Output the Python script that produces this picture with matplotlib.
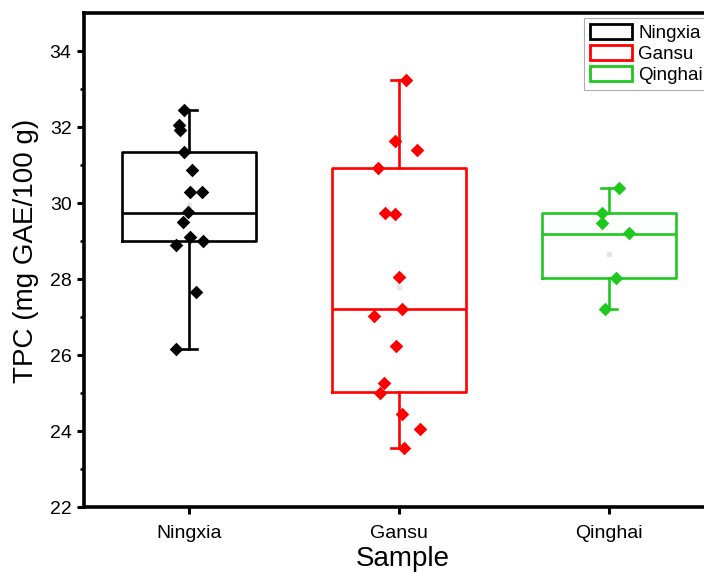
import numpy as np
import matplotlib.pyplot as plt
from matplotlib.patches import Patch

plt.rcParams['font.family'] = ['Liberation Sans', 'DejaVu Sans']

# Groups and colours
groups = ["Ningxia", "Gansu", "Qinghai"]
colors = ["black", "#ff0000", "#1ec81e"]

# Raw points (value, horizontal jitter in category units)
ningxia_vals = [32.45, 32.05, 31.92, 31.34, 30.87, 30.29, 30.29, 29.76, 29.50,
                29.11, 28.89, 29.00, 27.66, 26.16]
ningxia_jit = [-0.024, -0.048, -0.043, -0.024, 0.014, 0.005, 0.062, -0.005, -0.029,
               0.005, -0.062, 0.067, 0.033, -0.062]
gansu_vals = [33.24, 31.63, 31.39, 30.92, 29.74, 29.71, 28.05, 27.21, 27.03,
              26.24, 25.26, 25.00, 24.45, 24.05, 23.55]
gansu_jit = [0.033, -0.019, 0.086, -0.100, -0.067, -0.019, 0.000, 0.014, -0.119,
             -0.014, -0.071, -0.090, 0.014, 0.100, 0.024]
qinghai_vals = [30.39, 29.74, 29.47, 29.21, 28.03, 27.21]
qinghai_jit = [0.048, -0.033, -0.033, 0.095, 0.033, -0.019]

# Box statistics as drawn in the chart
q1 = [29.00, 25.03, 28.03]
med = [29.74, 27.21, 29.18]
q3 = [31.34, 30.92, 29.74]
whislo = [26.16, 23.55, 27.21]
whishi = [32.45, 33.24, 30.39]
means = [29.95, 27.80, 28.66]

values = [ningxia_vals, gansu_vals, qinghai_vals]
jitters = [ningxia_jit, gansu_jit, qinghai_jit]

fig = plt.figure(figsize=(7.04, 5.73), dpi=100)
ax = fig.add_axes([84 / 704, 66 / 573, (714 - 84) / 704, (507 - 13) / 573])

for i, g in enumerate(groups):
    stats = [dict(label=g, q1=q1[i], med=med[i], q3=q3[i],
                  whislo=whislo[i], whishi=whishi[i], mean=means[i])]
    c = colors[i]
    lw = 1.9
    ax.bxp(stats, positions=[i + 1], widths=0.64, showfliers=False, showmeans=True,
           boxprops=dict(color=c, linewidth=lw),
           medianprops=dict(color=c, linewidth=lw),
           whiskerprops=dict(color=c, linewidth=lw),
           capprops=dict(color=c, linewidth=lw),
           meanprops=dict(marker='s', markersize=2.5, markerfacecolor='#e6e6e6',
                          markeredgecolor='#e6e6e6'),
           capwidths=0.08)
    xs = np.array(jitters[i]) + i + 1
    ax.scatter(xs, values[i], marker='D', s=48, color=c, zorder=3, linewidths=0)

ax.set_xlim(0.5, 3.5)
ax.set_ylim(22, 35)
ax.set_xticks([1, 2, 3])
ax.set_xticklabels(groups, fontsize=14)
ax.set_yticks(np.arange(22, 35, 2))
ax.set_yticks(np.arange(23, 35, 2), minor=True)
ax.tick_params(axis='y', labelsize=14, pad=4)
ax.tick_params(axis='x', pad=8)
ax.tick_params(which='major', direction='out', length=5, width=2.2)
ax.tick_params(which='minor', direction='out', length=3, width=1.8)
for s in ax.spines.values():
    s.set_linewidth(2.6)

ax.set_xlabel("Sample", fontsize=20)
ax.set_ylabel("TPC (mg GAE/100 g)", fontsize=20)
ax.xaxis.set_label_coords(0.506, -0.079)
ax.yaxis.set_label_coords(-0.071, 0.518)

handles = [Patch(facecolor='white', edgecolor=c, linewidth=2.0) for c in colors]
leg = fig.legend(handles, groups, loc='upper left', bbox_to_anchor=(584 / 704, 1 - 18 / 573),
                 fontsize=13.5, frameon=True, fancybox=False, borderpad=0.3,
                 handlelength=2.25, handleheight=0.9, handletextpad=0.35,
                 labelspacing=0.15, borderaxespad=0)
leg.get_frame().set_edgecolor('#999999')
leg.get_frame().set_linewidth(0.8)

fig.savefig("out.png", dpi=100)
